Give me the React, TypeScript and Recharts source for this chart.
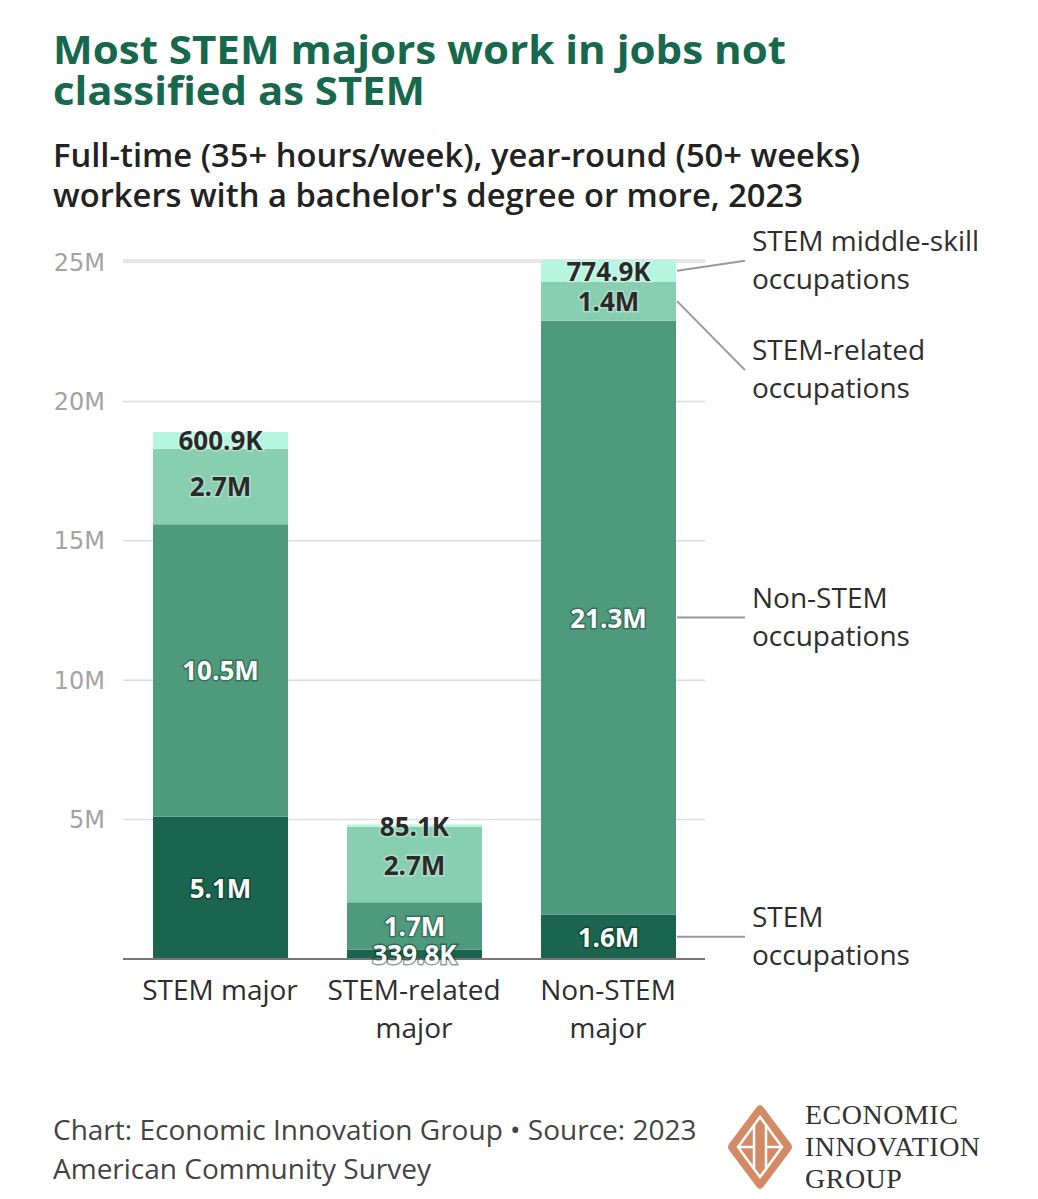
import { BarChart, Bar, XAxis, YAxis, CartesianGrid, LabelList } from 'recharts';

const MAJORS = ['STEM major', 'STEM-related major', 'Non-STEM major'];
const STEM_OCC = [5100000, 339800, 1600000];
const NON_STEM_OCC = [10500000, 1700000, 21300000];
const STEM_RELATED_OCC = [2700000, 2700000, 1400000];
const MIDDLE_SKILL_OCC = [600900, 85100, 774900];
const Y_TICKS = [5000000, 10000000, 15000000, 20000000, 25000000];

const data = MAJORS.map((major, i) => ({
  major,
  stem: STEM_OCC[i],
  nonStem: NON_STEM_OCC[i],
  stemRelated: STEM_RELATED_OCC[i],
  middleSkill: MIDDLE_SKILL_OCC[i],
}));

const SERIES = [
  { key: 'stem', name: ['STEM', 'occupations'], color: '#1b644d', text: '#ffffff', halo: 'rgba(0,40,25,0.45)', dy: 0 },
  { key: 'nonStem', name: ['Non-STEM', 'occupations'], color: '#4f997c', text: '#ffffff', halo: 'rgba(0,40,25,0.35)', dy: 0 },
  { key: 'stemRelated', name: ['STEM-related', 'occupations'], color: '#88ceb0', text: '#2a2a2a', halo: 'rgba(255,255,255,0.35)', dy: 69 },
  { key: 'middleSkill', name: ['STEM middle-skill', 'occupations'], color: '#b6f5df', text: '#2a2a2a', halo: 'rgba(255,255,255,0.35)', dy: -10 },
];

const FONT = '"Open Sans", "Noto Sans", sans-serif';

function fmt(v: number) {
  return v >= 1000000 ? (v / 1000000).toFixed(1) + 'M' : (v / 1000).toFixed(1) + 'K';
}

function makeValueLabel(text: string, halo: string) {
  return (props: any) => {
    const { x, y, width, height, value } = props;
    return (
      <text
        x={x + width / 2}
        y={y + height / 2}
        textAnchor="middle"
        dominantBaseline="central"
        fontFamily={FONT}
        fontWeight={700}
        fontSize={26}
        fill={text}
        stroke={halo}
        strokeWidth={3}
        paintOrder="stroke"
      >
        {fmt(value)}
      </text>
    );
  };
}

function makeSeriesNote(name: string[], dy: number) {
  return (props: any) => {
    const { x, y, width, height, index } = props;
    if (index !== MAJORS.length - 1) return null;
    const x0 = x + width + 1;
    const y0 = y + height / 2;
    const cy = y0 + dy;
    return (
      <g>
        <line x1={x0} y1={y0} x2={x0 + 68} y2={cy} stroke="#9a9a9a" strokeWidth={2} />
        <text x={x0 + 75} y={cy} fontFamily={FONT} fontSize={28} fill="#2e2e2e">
          <tspan x={x0 + 75} dy={-10}>{name[0]}</tspan>
          <tspan x={x0 + 75} dy={38}>{name[1]}</tspan>
        </text>
      </g>
    );
  };
}

function MajorTick(props: any) {
  const { x, y, payload } = props;
  const words = String(payload.value).split(' ');
  const lines = payload.value === 'STEM major' ? [payload.value] : [words.slice(0, -1).join(' '), words[words.length - 1]];
  return (
    <text x={x} y={y} textAnchor="middle" fontFamily={FONT} fontSize={28} fill="#2e2e2e">
      {lines.map((l, i) => (
        <tspan key={i} x={x} dy={i === 0 ? 33 : 38}>{l}</tspan>
      ))}
    </text>
  );
}

function Logo() {
  return (
    <svg width={70} height={90} viewBox="0 0 70 90" style={{ position: 'absolute', left: 725, top: 1102 }}>
      <path d="M35 3 Q37 3 39 6 L66 42 Q68 45 66 48 L39 84 Q37 87 35 87 Q33 87 31 84 L4 48 Q2 45 4 42 L31 6 Q33 3 35 3 Z" fill="#d38b66" />
      <path d="M35 15 L57 45 L35 75 L13 45 Z" fill="none" stroke="#fff" strokeWidth={2.5} />
      <line x1={29} y1={24} x2={29} y2={66} stroke="#fff" strokeWidth={2.5} />
      <line x1={41} y1={24} x2={41} y2={66} stroke="#fff" strokeWidth={2.5} />
      <line x1={13} y1={45} x2={29} y2={45} stroke="#fff" strokeWidth={2.5} />
      <line x1={41} y1={45} x2={55} y2={45} stroke="#fff" strokeWidth={2.5} />
    </svg>
  );
}

function Heading() {
  return (
    <svg width={1038} height={220} style={{ position: 'absolute', left: 0, top: 0 }}>
      <g fontFamily={FONT} fontWeight={700} fontSize={40} fill="#17694d">
        <text x={53} y={64} textLength={733} lengthAdjust="spacingAndGlyphs">Most STEM majors work in jobs not</text>
        <text x={53} y={105} textLength={372} lengthAdjust="spacingAndGlyphs">classified as STEM</text>
      </g>
      <g fontFamily={FONT} fontWeight={600} fontSize={32} fill="#222">
        <text x={53} y={167} textLength={807} lengthAdjust="spacingAndGlyphs">Full-time (35+ hours/week), year-round (50+ weeks)</text>
        <text x={53} y={207} textLength={750} lengthAdjust="spacingAndGlyphs">workers with a bachelor's degree or more, 2023</text>
      </g>
    </svg>
  );
}

export default function App() {
  return (
    <div style={{ position: 'absolute', left: 0, top: 0, width: 1038, height: 1199, background: '#fff', overflow: 'hidden' }}>
      <Heading />

      <div style={{ position: 'absolute', left: 0, top: 0 }}>
        <BarChart
          width={1038}
          height={1199}
          data={data}
          margin={{ top: 260, right: 333, bottom: 150, left: 0 }}
          barSize={135}
        >
          <CartesianGrid vertical={false} stroke="#dcdcdc" strokeWidth={1.5} />
          <XAxis
            dataKey="major"
            height={90}
            tickLine={false}
            axisLine={{ stroke: '#777', strokeWidth: 2 }}
            tick={<MajorTick />}
            interval={0}
          />
          <YAxis
            width={123}
            domain={[0, 25000000]}
            ticks={Y_TICKS}
            tickFormatter={(v: number) => v / 1000000 + 'M'}
            axisLine={false}
            tickLine={false}
            tickMargin={12}
            tick={{ fontFamily: '"DejaVu Sans", sans-serif', fontSize: 24, fill: '#a3a3a3' }}
          />
          {SERIES.map((s) => (
            <Bar key={s.key} dataKey={s.key} stackId="a" fill={s.color} isAnimationActive={false}>
              <LabelList dataKey={s.key} content={makeValueLabel(s.text, s.halo)} />
              <LabelList dataKey={s.key} content={makeSeriesNote(s.name, s.dy)} />
            </Bar>
          ))}
        </BarChart>
      </div>

      <div style={{ position: 'absolute', left: 53, top: 1110, fontFamily: FONT, fontSize: 28, lineHeight: '39px', color: '#444', whiteSpace: 'nowrap' }}>
        Chart: Economic Innovation Group • Source: 2023<br />American Community Survey
      </div>
      <Logo />
      <div style={{ position: 'absolute', left: 805, top: 1099, fontFamily: '"Liberation Serif", serif', fontSize: 28, lineHeight: '32px', letterSpacing: 0.5, color: '#333', whiteSpace: 'nowrap' }}>
        ECONOMIC<br />INNOVATION<br />GROUP
      </div>
    </div>
  );
}
